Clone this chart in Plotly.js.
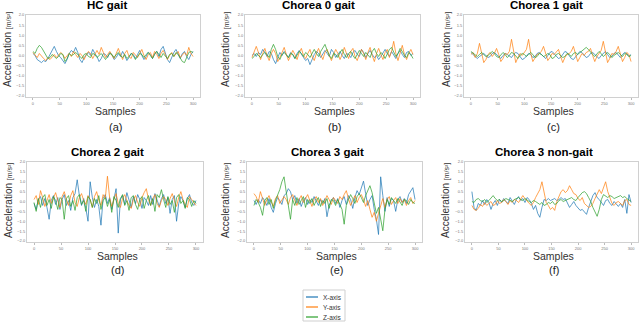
<!DOCTYPE html>
<html><head><meta charset="utf-8">
<script src="https://cdn.plot.ly/plotly-3.0.1.min.js"></script>
<style>html,body{margin:0;padding:0;background:#fff}#chart{width:640px;height:322px}</style>
</head><body><div id="chart"></div>
<script>
// ---- data (sample index spacing 4, samples 0..300) ----
const seriesNames = ["X-axis", "Y-axis", "Z-axis"];
const panelTitles = ["HC gait", "Chorea 0 gait", "Chorea 1 gait", "Chorea 2 gait", "Chorea 3 gait", "Chorea 3 non-gait"];
const panelLetters = ["(a)", "(b)", "(c)", "(d)", "(e)", "(f)"];
const xTicks = [0, 50, 100, 150, 200, 250, 300];
const yTicks = [-2.0, -1.5, -1.0, -0.5, 0.0, 0.5, 1.0, 1.5, 2.0];

const hcX = [0.10,0.00,-0.20,-0.30,-0.35,-0.25,-0.30,-0.15,0.05,0.25,
 0.45,0.20,0.00,-0.10,-0.25,-0.40,-0.20,0.10,0.25,0.15,
 0.40,0.15,-0.20,-0.35,-0.10,0.05,0.15,0.00,0.30,0.10,
 -0.05,-0.30,-0.15,0.10,0.05,-0.10,0.15,0.05,-0.20,-0.10,
 0.10,-0.05,0.20,0.00,-0.25,-0.10,0.10,0.05,-0.15,0.05,
 0.25,0.00,-0.20,-0.05,0.15,0.05,-0.15,0.10,0.20,-0.05,
 0.30,0.45,0.10,-0.20,-0.35,-0.10,0.15,0.30,0.05,-0.15,
 0.10,0.20,-0.05,-0.20,0.05,0.20];
const hcY = [0.15,0.05,-0.10,0.10,-0.05,-0.15,-0.25,-0.10,-0.20,-0.05,
 0.05,-0.10,0.00,0.15,0.05,-0.15,0.00,0.10,-0.05,0.20,
 0.05,-0.10,0.10,0.00,-0.20,0.05,0.20,0.10,-0.15,0.05,
 0.25,0.05,0.40,0.15,-0.10,0.05,0.20,0.00,-0.15,0.10,
 0.35,0.05,-0.20,0.10,0.25,-0.05,-0.15,0.15,0.05,-0.10,
 0.10,0.30,0.00,-0.20,0.05,0.15,-0.10,0.20,0.05,-0.15,
 0.10,0.25,0.05,-0.20,0.00,0.15,-0.05,0.10,0.20,-0.10,
 0.05,0.15,0.00,0.40,0.10,-0.05];
const hcZ = [0.20,0.10,0.35,0.50,0.40,0.20,0.05,-0.15,-0.10,0.05,
 -0.05,-0.15,-0.05,0.10,0.05,-0.30,-0.15,0.10,0.00,0.05,
 0.15,0.05,-0.05,-0.15,0.05,0.10,-0.05,-0.10,0.10,0.05,
 -0.10,0.00,0.10,-0.05,-0.20,-0.05,0.10,0.05,-0.10,0.05,
 0.15,0.00,-0.10,0.05,-0.15,-0.05,0.10,0.00,-0.20,-0.05,
 0.10,0.05,-0.10,0.05,0.15,0.00,-0.15,0.05,0.20,0.05,
 -0.10,0.10,0.00,-0.15,0.05,0.10,-0.05,0.15,0.05,-0.15,
 -0.30,-0.35,-0.05,0.15,0.20,0.15];

const c0X = [0.00,0.10,-0.05,0.15,0.05,0.30,0.15,-0.05,0.20,0.10,
 -0.20,-0.40,-0.10,0.15,0.00,0.20,0.05,-0.10,0.15,0.05,
 -0.15,0.10,0.25,0.05,-0.10,-0.25,-0.15,-0.45,-0.20,0.05,
 0.20,0.10,-0.10,0.05,0.25,0.10,-0.05,0.30,0.15,-0.10,
 0.05,0.20,0.00,-0.15,0.10,0.05,-0.10,0.15,0.25,0.05,
 -0.05,0.30,0.15,-0.10,0.10,0.25,0.05,-0.10,0.00,-0.20,
 -0.05,0.15,0.30,0.10,-0.05,0.20,0.00,-0.15,0.10,0.25,
 0.05,-0.10,0.15,0.20,0.00,0.10];
const c0Y = [-0.10,0.20,0.45,0.15,-0.20,0.10,0.35,0.00,-0.25,0.10,
 0.30,0.10,-0.30,-0.10,0.20,0.40,0.05,-0.25,0.00,0.25,
 0.05,-0.20,0.15,0.35,0.00,-0.15,0.10,0.30,-0.05,-0.25,
 0.10,0.35,0.05,-0.20,0.15,0.30,0.00,-0.25,0.05,0.30,
 0.10,-0.20,0.05,0.40,0.10,-0.15,0.20,0.35,-0.05,-0.25,
 0.05,0.30,0.10,-0.20,0.15,0.40,0.00,-0.30,0.10,0.35,
 0.05,-0.20,0.15,0.30,-0.10,0.20,0.70,0.10,-0.25,0.15,
 0.50,0.05,-0.20,0.10,0.30,0.05];
const c0Z = [-0.15,-0.05,0.10,0.00,-0.10,0.05,0.15,0.05,-0.10,0.30,
 0.55,0.30,-0.05,-0.20,0.05,0.15,0.00,-0.10,0.10,0.05,
 -0.15,0.05,0.20,0.10,-0.05,0.15,0.05,-0.10,0.10,0.30,
 0.10,-0.05,0.20,0.35,0.55,0.25,0.00,-0.15,0.10,0.05,
 -0.10,0.15,0.30,0.05,-0.10,0.10,0.20,0.00,-0.15,0.05,
 0.25,0.10,-0.05,0.15,0.00,-0.10,0.20,0.35,0.10,-0.05,
 0.15,0.05,-0.15,0.10,0.30,0.40,0.15,-0.05,0.10,0.35,
 0.20,0.00,-0.10,0.15,0.05,-0.15];

const c1X = [0.15,0.05,-0.10,-0.15,-0.05,0.05,0.10,0.00,-0.10,-0.05,
 0.10,0.15,0.05,-0.10,-0.15,0.00,0.10,0.05,-0.05,-0.10,
 0.05,0.15,0.10,-0.05,-0.20,-0.15,0.00,0.10,0.05,-0.10,
 -0.05,0.10,0.15,0.05,-0.10,-0.15,0.00,0.15,0.20,0.10,
 -0.05,-0.15,-0.10,0.05,0.20,0.15,0.00,-0.15,-0.20,-0.05,
 0.10,0.20,0.15,0.00,-0.10,-0.05,0.10,0.15,0.05,-0.10,
 -0.15,0.00,0.10,0.20,0.05,-0.10,-0.05,0.10,0.15,0.00,
 -0.10,0.05,0.15,0.10,-0.05,0.05];
const c1Y = [0.05,0.15,-0.10,0.10,0.60,0.10,-0.35,-0.20,0.05,0.15,
 -0.05,0.10,0.35,0.05,-0.30,-0.15,0.10,0.05,0.20,0.80,
 0.15,-0.35,-0.10,0.10,0.00,0.15,0.30,0.80,0.10,-0.30,
 -0.15,0.05,0.10,0.20,0.45,0.05,-0.25,-0.10,0.10,0.05,
 0.15,0.30,-0.05,-0.35,-0.10,0.05,0.10,0.20,0.45,0.05,
 -0.30,-0.10,0.10,0.00,0.15,0.20,0.35,0.00,-0.30,-0.05,
 0.10,0.25,0.70,0.15,-0.35,-0.15,0.10,0.05,0.20,0.45,
 0.05,-0.30,-0.10,0.15,0.05,-0.30];
const c1Z = [0.20,0.10,0.00,-0.05,0.05,0.15,0.05,-0.05,0.00,0.10,
 0.20,0.10,-0.05,-0.10,0.05,0.15,0.05,-0.10,0.00,0.15,
 0.10,-0.05,-0.15,0.00,0.10,0.05,-0.05,0.05,0.15,0.05,
 -0.10,-0.05,0.10,0.05,-0.05,0.00,0.10,0.05,-0.15,-0.10,
 0.05,0.10,0.00,-0.10,-0.05,0.10,0.05,-0.05,0.10,0.15,
 0.05,0.15,0.25,0.35,0.40,0.30,0.15,0.05,-0.05,0.10,
 0.20,0.10,-0.05,0.05,0.15,0.05,-0.10,0.00,0.10,0.15,
 0.05,-0.05,0.10,0.05,-0.05,0.00];

const c2X = [-0.10,-0.40,0.10,0.25,-0.20,0.15,-0.30,-0.90,0.05,0.30,
 -0.15,0.20,-0.40,0.10,0.35,-0.20,0.05,-0.45,0.20,0.40,
 1.10,0.30,-0.20,0.15,-0.35,-1.00,1.00,0.20,-0.30,0.10,
 -0.25,-1.20,0.15,0.35,-0.10,0.20,-0.40,0.05,0.65,-1.60,
 0.10,0.30,-0.15,0.45,0.05,-0.30,0.25,-0.10,0.35,0.10,
 -0.35,0.20,0.05,-0.20,0.30,-0.15,0.40,0.10,-0.25,0.15,
 0.35,-0.10,0.20,-0.60,0.10,0.30,-1.00,-0.10,0.25,0.05,
 -0.30,0.15,0.35,-0.05,-0.20,0.05];
const c2Y = [0.10,0.30,-0.15,0.55,0.20,-0.25,0.05,0.35,-0.10,0.20,
 0.45,0.05,-0.30,0.25,0.50,0.10,-0.20,0.30,0.55,-0.05,
 -0.25,0.20,0.40,0.05,-0.15,0.30,0.10,-0.30,0.25,0.50,
 0.05,-0.20,0.35,0.15,1.28,0.20,-0.25,0.10,0.40,-0.10,
 -0.30,0.15,0.35,0.05,-0.20,-0.35,0.10,0.30,-0.05,-0.25,
 0.20,0.45,0.65,0.10,-0.20,0.15,0.35,-0.10,-0.30,0.05,
 0.25,0.10,-0.20,0.15,0.40,0.05,-0.25,0.20,0.50,0.10,
 -0.15,-0.30,0.25,0.10,-0.05,-0.20];
const c2Z = [-0.05,-0.50,0.15,-0.30,0.20,0.35,-0.20,0.10,-0.35,0.25,
 0.05,-0.40,0.20,0.10,-0.90,0.15,0.30,-0.25,0.05,-0.45,
 0.20,0.35,-0.15,0.05,-0.50,0.25,0.10,-0.30,0.15,-0.10,
 0.30,-0.40,0.05,0.20,-0.25,0.10,-0.55,0.25,0.05,-0.30,
 0.15,0.35,-0.20,0.05,-0.45,0.20,0.30,-0.15,-0.40,0.10,
 0.25,-0.35,0.05,0.30,-0.20,0.15,-0.50,0.35,0.20,0.60,
 0.10,-0.30,0.25,-0.15,0.05,-0.55,0.20,0.35,-0.10,0.05,
 -0.35,0.20,0.10,-0.25,0.05,-0.10];

const c3X = [0.05,-0.15,0.10,-0.10,0.20,0.05,-0.20,0.15,-0.30,-0.55,
 -0.10,0.20,0.05,-0.15,0.30,0.40,0.65,0.50,0.10,0.30,
 -0.10,0.15,-0.25,0.05,0.20,-0.15,0.10,-0.05,0.25,0.05,
 -0.20,0.10,-0.10,0.15,-0.77,-0.20,0.05,0.20,-0.10,0.15,
 -0.30,0.05,0.25,-0.15,0.30,0.10,-0.35,0.20,0.55,0.35,
 0.70,1.03,0.40,-0.20,0.10,0.30,-0.40,-0.90,-1.67,1.25,
 0.30,-0.50,0.20,-0.25,0.15,0.05,-0.50,0.10,0.25,-0.05,
 0.15,-0.10,0.35,0.55,0.70,0.10];
const c3Y = [0.40,0.25,-0.05,0.50,0.15,-0.20,0.10,0.30,0.00,-0.25,
 0.15,0.30,-0.10,0.05,0.25,0.10,-0.15,0.20,0.35,0.05,
 -0.20,0.10,0.30,-0.05,0.15,0.35,0.05,-0.25,0.10,0.25,
 -0.05,0.15,-0.20,0.05,0.30,0.10,-0.15,0.20,0.05,-0.10,
 0.25,0.10,0.35,0.55,0.15,-0.20,0.05,0.30,-0.05,0.20,
 0.35,0.10,-0.25,0.05,-0.40,-0.80,-0.55,-1.00,-0.60,-0.20,
 0.15,-0.30,0.10,0.25,-0.15,0.05,0.20,-0.10,0.15,-0.05,
 0.10,-0.20,0.05,0.20,-0.10,0.05];
const c3Z = [-0.20,0.10,-0.05,-0.30,-0.70,0.05,0.20,-0.15,0.10,-0.35,
 0.05,0.30,0.60,1.00,1.25,0.50,-0.30,-0.90,0.10,-0.20,
 0.20,-0.15,0.05,0.25,-0.30,0.10,-0.10,0.15,-0.20,0.05,
 0.20,-0.25,0.05,-0.10,0.15,-0.35,0.10,0.05,-0.20,0.10,
 -0.15,-0.40,-1.15,-0.20,0.10,0.35,0.15,-0.10,0.25,0.40,
 0.20,-0.05,0.30,0.55,0.80,0.45,-0.10,-0.60,-0.30,-0.90,
 -1.48,-0.40,0.10,-0.15,0.20,0.05,-0.10,0.15,0.00,-0.20,
 0.10,0.05,-0.15,0.10,-0.05,-0.10];

const ngX = [0.50,-0.30,-0.45,-0.10,-0.20,0.05,-0.15,0.10,-0.05,-0.40,
 -0.10,0.05,-0.20,0.10,-0.05,0.15,0.00,-0.10,0.20,0.05,
 -0.15,0.10,0.25,0.05,0.15,-0.05,0.20,0.10,-0.10,-0.40,
 -0.20,-0.60,-0.80,-0.30,0.10,0.05,0.15,0.05,0.10,0.15,
 0.05,0.10,0.20,0.10,0.15,-0.10,-0.30,-0.15,0.00,-0.20,
 -0.30,-0.45,-0.40,-0.55,-0.65,-0.30,0.05,0.30,0.45,0.20,
 0.10,-0.05,-0.20,0.05,0.10,-0.10,-0.20,0.00,-0.15,-0.25,
 -0.10,-0.30,0.10,-0.60,0.35,-0.05];
const ngY = [-0.20,-0.40,-0.45,-0.35,-0.15,-0.25,-0.05,-0.20,-0.10,0.00,
 -0.20,-0.15,0.05,-0.10,-0.05,0.10,0.00,-0.15,0.05,-0.05,
 0.10,0.05,-0.05,0.10,0.30,0.15,0.00,-0.10,-0.20,-0.05,
 0.20,0.40,0.60,1.00,0.40,-0.05,-0.20,-0.40,-0.30,-0.45,
 0.00,0.30,0.50,0.60,0.45,0.55,0.80,0.60,0.40,0.35,
 0.15,0.05,0.20,-0.10,-0.20,-0.30,-0.25,-0.10,0.15,0.35,
 0.60,0.40,0.70,1.00,0.50,0.20,-0.10,-0.20,-0.05,0.00,
 -0.10,-0.20,0.05,0.10,-0.15,-0.20];
const ngZ = [0.00,-0.05,0.10,0.15,0.05,0.00,0.10,-0.05,0.05,0.20,
 0.30,0.15,0.05,0.10,0.00,0.05,0.15,0.10,0.05,0.00,
 0.10,0.15,0.20,0.10,0.05,0.15,0.05,0.00,-0.05,0.05,
 0.00,-0.10,-0.15,-0.05,-0.20,-0.15,-0.05,-0.10,0.00,-0.15,
 -0.10,0.05,0.10,0.00,0.05,0.10,0.15,0.20,0.10,0.05,
 0.20,0.35,0.45,0.50,0.40,0.20,0.00,-0.30,-0.55,-0.75,
 -0.40,0.10,0.35,0.25,0.20,0.30,0.25,0.15,0.20,0.25,
 0.30,0.20,0.25,0.15,0.05,0.00];

const panelData = [[hcX,hcY,hcZ],[c0X,c0Y,c0Z],[c1X,c1Y,c1Z],[c2X,c2Y,c2Z],[c3X,c3Y,c3Z],[ngX,ngY,ngZ]];

// ---- styling / layout ----
const W = 640, H = 322;
const colors = ["rgba(31,119,180,0.72)", "rgba(255,127,14,0.72)", "rgba(44,160,44,0.72)"];
const legendColors = ["#1f77b4", "#ff7f0e", "#2ca02c"];
// plot frames in pixels [left, right, top, bottom]
const frames = [[26,200,15,97],[245,420,15,97],[464,638,15,97],[27,203,162,242],[247,422,162,242],[465,638,162,242]];
const titlePos = [[107,5],[318,5],[546,5],[107,152],[327,152],[544,152]];
const ytitleX = [8,226,447,8,225,445];
const px = x => x / W, py = y => 1 - y / H;

const traces = [];
const layout = {
  width: W, height: H, margin: {l:0,r:0,t:0,b:0},
  paper_bgcolor: "#fff", plot_bgcolor: "#fff", showlegend: false,
  font: {family: "Liberation Sans, Arial, sans-serif", color: "#222"},
  annotations: [], shapes: []
};
panelData.forEach((series, p) => {
  const k = p === 0 ? "" : String(p + 1);
  const f = frames[p];
  series.forEach((ys, s) => {
    traces.push({type: "scatter", mode: "lines", y: ys, x0: 0, dx: 4,
      xaxis: "x" + k, yaxis: "y" + k, name: seriesNames[s],
      line: {color: colors[s], width: 1}, hoverinfo: "skip"});
  });
  const common = {showline: true, mirror: true, linecolor: "#d0d0d0", linewidth: 1,
    showgrid: false, zeroline: false, ticks: "outside", ticklen: 2, tickcolor: "#bbb",
    tickfont: {size: 4, color: "#777"}, fixedrange: true};
  layout["xaxis" + k] = Object.assign({}, common, {domain: [px(f[0]), px(f[1])],
    anchor: "y" + k, range: [-13, 313], tickvals: xTicks});
  layout["yaxis" + k] = Object.assign({}, common, {domain: [py(f[3]), py(f[2])],
    anchor: "x" + k, range: [-2.05, 2.0], tickvals: yTicks, tickformat: ".1f", ticks: ""});
  const cx = (f[0] + f[1]) / 2;
  const top = p < 3;
  layout.annotations.push({xref:"paper", yref:"paper", x: px(titlePos[p][0]), y: py(titlePos[p][1]),
    xanchor:"center", yanchor:"middle", showarrow:false, text: "<b>" + panelTitles[p] + "</b>",
    font: {size: 11.5, color: "#000"}});
  layout.annotations.push({xref:"paper", yref:"paper", x: px(cx + 2), y: py(top ? 111 : 256),
    xanchor:"center", yanchor:"middle", showarrow:false, text: "Samples", font: {size: 10.5, color:"#333"}});
  layout.annotations.push({xref:"paper", yref:"paper", x: px(cx + 2), y: py(top ? 127 : 270),
    xanchor:"center", yanchor:"middle", showarrow:false, text: panelLetters[p], font: {size: 11, color:"#222"}});
  layout.annotations.push({xref:"paper", yref:"paper", x: px(ytitleX[p]), y: py(top ? 50 : 201),
    xanchor:"center", yanchor:"middle", showarrow:false, textangle: -90,
    text: "Acceleration <span style='font-size:7px'>[m/s²]</span>", font: {size: 10, color:"#333"}});
});

// legend box
layout.shapes.push({type:"rect", xref:"paper", yref:"paper", x0: px(303), x1: px(345), y0: py(321), y1: py(290),
  line: {color:"#cfcfcf", width: 1}, fillcolor: "#fff"});
seriesNames.forEach((n, i) => {
  const yy = 297 + i * 10;
  layout.shapes.push({type:"line", xref:"paper", yref:"paper", x0: px(306), x1: px(318), y0: py(yy), y1: py(yy),
    line: {color: legendColors[i], width: 1.2}});
  layout.annotations.push({xref:"paper", yref:"paper", x: px(321), y: py(yy), xanchor:"left", yanchor:"middle",
    showarrow:false, text: n, font: {size: 6.5, color:"#333"}});
});

Plotly.newPlot("chart", traces, layout, {staticPlot: true, displayModeBar: false});
</script>
</body></html>
